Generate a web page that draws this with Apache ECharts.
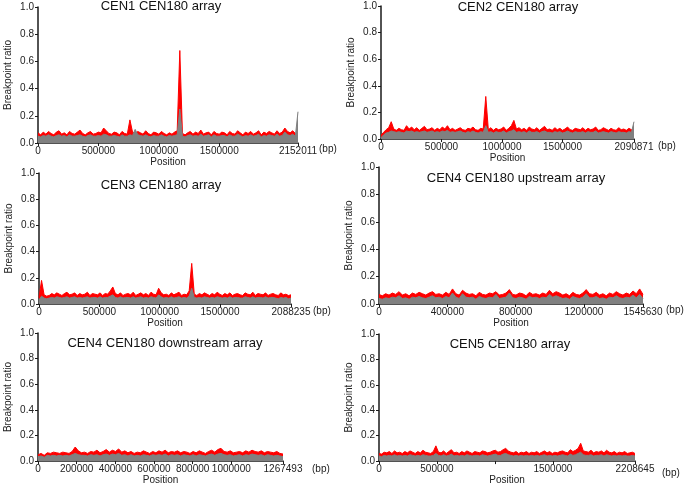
<!DOCTYPE html>
<html><head><meta charset="utf-8">
<script src="https://cdn.jsdelivr.net/npm/echarts@6/dist/echarts.min.js"></script>
<style>html,body{margin:0;padding:0;background:#fff}#c{width:685px;height:486px}</style>
</head><body><div id="c"></div>
<script>
// ---------- DATA ----------
const panelTitles = ['CEN1 CEN180 array','CEN2 CEN180 array','CEN3 CEN180 array','CEN4 CEN180 upstream array','CEN4 CEN180 downstream array','CEN5 CEN180 array'];
const arrayLengths = [2152011, 2090871, 2088235, 1545630, 1267493, 2208645];
const tickValues = [
  [0,500000,1000000,1500000,2152011],
  [0,500000,1000000,1500000,2090871],
  [0,500000,1000000,1500000,2088235],
  [0,400000,800000,1200000,1545630],
  [0,200000,400000,600000,800000,1000000,1267493],
  [0,500000,1000000,1500000,2208645]
];
const labelValues = [
  [0,500000,1000000,1500000,2152011],
  [0,500000,1000000,1500000,2090871],
  [0,500000,1000000,1500000,2088235],
  [0,400000,800000,1200000,1545630],
  [0,200000,400000,600000,800000,1000000,1267493],
  [0,500000,1500000,2208645]
];

const red1 = [0.075,0.06,0.08,0.065,0.085,0.07,0.06,0.08,0.09,0.065,
0.075,0.06,0.085,0.07,0.065,0.08,0.095,0.07,0.06,0.075,
0.085,0.065,0.07,0.08,0.075,0.11,0.09,0.07,0.065,0.08,
0.075,0.06,0.085,0.07,0.065,0.17,0.08,0.07,0.085,0.075,
0.065,0.09,0.07,0.06,0.08,0.075,0.065,0.085,0.07,0.06,
0.075,0.065,0.08,0.09,0.68,0.07,0.06,0.075,0.085,0.065,
0.08,0.07,0.095,0.065,0.075,0.08,0.06,0.085,0.07,0.065,
0.08,0.075,0.06,0.085,0.07,0.065,0.09,0.075,0.06,0.08,
0.07,0.085,0.065,0.075,0.09,0.06,0.08,0.07,0.085,0.075,
0.065,0.09,0.07,0.08,0.11,0.085,0.075,0.09,0.07,0.065];
const gray1 = [0.05,0.045,0.055,0.05,0.06,0.05,0.045,0.055,0.06,0.05,
0.055,0.045,0.06,0.05,0.05,0.055,0.06,0.05,0.045,0.055,
0.06,0.05,0.05,0.055,0.05,0.065,0.06,0.05,0.05,0.055,
0.05,0.045,0.06,0.05,0.05,0.06,0.055,0.1,0.06,0.055,
0.05,0.06,0.05,0.045,0.055,0.05,0.05,0.06,0.05,0.045,
0.055,0.05,0.055,0.06,0.25,0.05,0.045,0.055,0.06,0.05,
0.055,0.05,0.065,0.05,0.055,0.06,0.045,0.06,0.05,0.05,
0.055,0.055,0.045,0.06,0.05,0.05,0.065,0.055,0.045,0.055,
0.05,0.06,0.05,0.055,0.065,0.045,0.055,0.05,0.06,0.055,
0.05,0.065,0.05,0.055,0.08,0.06,0.055,0.065,0.05,0.23];

const red2 = [0.03,0.05,0.07,0.085,0.13,0.075,0.065,0.08,0.07,0.065,
0.1,0.075,0.09,0.07,0.085,0.065,0.08,0.095,0.07,0.075,
0.085,0.065,0.08,0.07,0.09,0.075,0.1,0.07,0.08,0.065,
0.075,0.085,0.07,0.065,0.08,0.075,0.09,0.07,0.065,0.08,
0.075,0.32,0.07,0.085,0.065,0.08,0.07,0.075,0.09,0.065,
0.08,0.1,0.14,0.075,0.085,0.07,0.08,0.065,0.09,0.075,
0.07,0.085,0.065,0.08,0.095,0.07,0.075,0.065,0.085,0.07,
0.08,0.065,0.075,0.09,0.07,0.065,0.08,0.075,0.07,0.085,
0.065,0.08,0.07,0.075,0.09,0.065,0.07,0.085,0.075,0.065,
0.08,0.07,0.065,0.085,0.07,0.075,0.065,0.08,0.07,0.075];
const gray2 = [0.01,0.03,0.045,0.05,0.06,0.055,0.05,0.055,0.05,0.045,
0.06,0.055,0.06,0.05,0.055,0.05,0.055,0.06,0.05,0.055,
0.06,0.05,0.055,0.05,0.06,0.055,0.065,0.05,0.055,0.05,
0.055,0.06,0.05,0.045,0.055,0.05,0.06,0.05,0.045,0.055,
0.05,0.1,0.05,0.055,0.045,0.055,0.05,0.05,0.06,0.045,
0.055,0.06,0.07,0.05,0.055,0.05,0.055,0.045,0.06,0.05,
0.05,0.055,0.045,0.055,0.06,0.05,0.05,0.045,0.055,0.05,
0.055,0.045,0.05,0.06,0.05,0.045,0.055,0.05,0.05,0.055,
0.045,0.055,0.05,0.05,0.06,0.045,0.05,0.055,0.05,0.045,
0.055,0.05,0.045,0.055,0.05,0.05,0.045,0.055,0.05,0.13];

const red3 = [0.05,0.18,0.07,0.06,0.065,0.08,0.07,0.085,0.075,0.065,
0.08,0.09,0.07,0.075,0.085,0.065,0.08,0.07,0.075,0.09,
0.065,0.08,0.075,0.07,0.085,0.065,0.08,0.075,0.1,0.13,
0.08,0.07,0.085,0.065,0.075,0.08,0.07,0.09,0.065,0.075,
0.085,0.07,0.08,0.065,0.09,0.075,0.07,0.12,0.085,0.07,
0.075,0.065,0.085,0.07,0.08,0.09,0.065,0.075,0.07,0.1,
0.31,0.075,0.065,0.08,0.07,0.085,0.075,0.065,0.08,0.07,
0.09,0.075,0.065,0.08,0.07,0.085,0.065,0.075,0.08,0.07,
0.065,0.085,0.075,0.07,0.09,0.065,0.08,0.075,0.07,0.085,
0.065,0.075,0.08,0.07,0.065,0.085,0.07,0.075,0.065,0.07];
const gray3 = [0.03,0.06,0.045,0.04,0.045,0.05,0.045,0.055,0.05,0.045,
0.05,0.055,0.045,0.05,0.055,0.045,0.05,0.045,0.05,0.055,
0.045,0.05,0.05,0.045,0.055,0.045,0.05,0.05,0.06,0.07,
0.05,0.045,0.055,0.045,0.05,0.05,0.045,0.055,0.045,0.05,
0.055,0.045,0.05,0.045,0.055,0.05,0.045,0.07,0.055,0.045,
0.05,0.045,0.055,0.045,0.05,0.055,0.045,0.05,0.045,0.06,
0.12,0.05,0.045,0.05,0.045,0.055,0.05,0.045,0.05,0.045,
0.055,0.05,0.045,0.05,0.045,0.055,0.045,0.05,0.05,0.045,
0.045,0.055,0.05,0.045,0.055,0.045,0.05,0.05,0.045,0.055,
0.045,0.05,0.05,0.045,0.04,0.05,0.045,0.05,0.04,0.045];

const red4 = [0.07,0.06,0.075,0.065,0.08,0.07,0.09,0.065,0.075,0.06,
0.08,0.07,0.085,0.075,0.065,0.08,0.09,0.07,0.075,0.065,
0.085,0.07,0.11,0.075,0.065,0.1,0.08,0.07,0.075,0.06,
0.085,0.07,0.065,0.08,0.075,0.09,0.065,0.07,0.08,0.105,
0.07,0.065,0.08,0.075,0.06,0.085,0.07,0.075,0.065,0.08,
0.07,0.1,0.075,0.09,0.08,0.065,0.075,0.06,0.085,0.07,
0.065,0.08,0.105,0.075,0.07,0.085,0.065,0.075,0.06,0.08,
0.07,0.09,0.075,0.065,0.08,0.07,0.095,0.075,0.11,0.07];
const gray4 = [0.04,0.035,0.045,0.04,0.05,0.045,0.06,0.04,0.045,0.035,
0.05,0.045,0.055,0.045,0.04,0.05,0.06,0.045,0.05,0.04,
0.055,0.045,0.08,0.05,0.04,0.075,0.05,0.045,0.05,0.035,
0.055,0.045,0.04,0.05,0.045,0.07,0.04,0.045,0.05,0.08,
0.045,0.04,0.05,0.045,0.035,0.055,0.045,0.05,0.04,0.05,
0.045,0.07,0.05,0.06,0.05,0.04,0.045,0.035,0.055,0.045,
0.04,0.05,0.075,0.045,0.045,0.055,0.04,0.045,0.035,0.05,
0.045,0.06,0.045,0.04,0.05,0.045,0.065,0.045,0.07,0.04];

const red5 = [0.05,0.06,0.045,0.065,0.06,0.07,0.065,0.06,0.07,0.065,
0.06,0.075,0.11,0.08,0.065,0.07,0.06,0.075,0.07,0.085,
0.065,0.075,0.09,0.07,0.085,0.075,0.095,0.07,0.08,0.065,
0.075,0.06,0.07,0.065,0.08,0.07,0.06,0.075,0.065,0.08,
0.07,0.085,0.065,0.075,0.07,0.08,0.065,0.075,0.07,0.06,
0.075,0.065,0.08,0.07,0.06,0.075,0.085,0.07,0.09,0.1,
0.075,0.07,0.08,0.065,0.07,0.075,0.065,0.08,0.07,0.085,
0.075,0.07,0.08,0.065,0.075,0.07,0.065,0.075,0.06,0.055];
const gray5 = [0.035,0.04,0.03,0.045,0.04,0.045,0.04,0.045,0.04,0.045,
0.04,0.05,0.06,0.05,0.045,0.045,0.04,0.05,0.045,0.05,
0.04,0.05,0.055,0.045,0.055,0.05,0.06,0.045,0.05,0.04,
0.05,0.04,0.045,0.04,0.05,0.045,0.04,0.05,0.045,0.05,
0.045,0.055,0.04,0.05,0.045,0.05,0.04,0.05,0.045,0.04,
0.05,0.04,0.05,0.045,0.04,0.05,0.055,0.045,0.055,0.06,
0.05,0.045,0.05,0.04,0.045,0.05,0.04,0.05,0.045,0.055,
0.05,0.045,0.05,0.04,0.05,0.045,0.04,0.045,0.04,0.035];

const red6 = [0.06,0.055,0.07,0.065,0.075,0.06,0.08,0.065,0.07,0.06,
0.075,0.065,0.08,0.07,0.06,0.075,0.065,0.085,0.07,0.065,
0.06,0.075,0.12,0.07,0.065,0.08,0.06,0.075,0.09,0.065,
0.07,0.06,0.075,0.065,0.08,0.07,0.06,0.075,0.07,0.065,
0.08,0.075,0.065,0.07,0.08,0.085,0.07,0.075,0.09,0.1,
0.08,0.07,0.065,0.075,0.06,0.07,0.065,0.075,0.06,0.07,
0.065,0.075,0.06,0.07,0.08,0.065,0.075,0.06,0.07,0.065,
0.075,0.08,0.07,0.065,0.09,0.075,0.085,0.1,0.14,0.08,
0.075,0.07,0.085,0.065,0.075,0.07,0.08,0.065,0.085,0.07,
0.065,0.075,0.06,0.07,0.065,0.075,0.06,0.065,0.07,0.06];
const gray6 = [0.04,0.035,0.045,0.04,0.045,0.04,0.05,0.04,0.045,0.04,
0.045,0.04,0.05,0.045,0.04,0.045,0.04,0.05,0.045,0.04,
0.04,0.045,0.06,0.045,0.04,0.05,0.04,0.045,0.055,0.04,
0.045,0.04,0.045,0.04,0.05,0.045,0.04,0.045,0.045,0.04,
0.05,0.045,0.04,0.045,0.05,0.055,0.045,0.045,0.055,0.06,
0.05,0.045,0.04,0.045,0.04,0.045,0.04,0.045,0.04,0.045,
0.04,0.045,0.04,0.045,0.05,0.04,0.045,0.04,0.045,0.04,
0.045,0.05,0.045,0.04,0.055,0.045,0.05,0.06,0.07,0.05,
0.045,0.045,0.05,0.04,0.045,0.045,0.05,0.04,0.05,0.045,
0.04,0.045,0.04,0.045,0.04,0.045,0.04,0.04,0.045,0.04];

const redSeries = [red1, red2, red3, red4, red5, red6];
const graySeries = [gray1, gray2, gray3, gray4, gray5, gray6];

// ---------- LAYOUT (styles / positions) ----------
const layout = [
  {left:38,  top:7,   width:260, height:136, title:[161,6],   bp:[319,149]},
  {left:381, top:6,   width:253, height:133, title:[518,7],   bp:[658,146]},
  {left:39,  top:173, width:252, height:131, title:[161,185], bp:[313,311]},
  {left:379, top:167, width:264, height:137, title:[516,178], bp:[666,310]},
  {left:38,  top:333, width:245, height:130, title:[165,343], bp:[312,469]},
  {left:379, top:334, width:256, height:133, title:[510,344], bp:[662,473]}
];
const FONT = 'Liberation Sans, Arial, sans-serif';
const AXIS_COLOR = '#1a1a1a';

const grid = [], xAxis = [], yAxis = [], series = [], graphic = [];
layout.forEach((L, i) => {
  grid.push({left:L.left, top:L.top, width:L.width, height:L.height, containLabel:false});
  const maxX = arrayLengths[i];
  xAxis.push({
    type:'value', gridIndex:i, min:0, max:maxX,
    name:'Position', nameLocation:'middle', nameGap:9,
    nameTextStyle:{fontFamily:FONT, fontSize:10, color:'#222', verticalAlign:'top'},
    axisLine:{show:true, onZero:false, lineStyle:{color:AXIS_COLOR, width:1.5}},
    axisTick:{show:true, length:3, inside:false, customValues:tickValues[i], lineStyle:{color:AXIS_COLOR}},
    axisLabel:{show:true, margin:3, fontFamily:FONT, fontSize:10, color:'#222',
      customValues:labelValues[i], formatter:(v)=>String(v)},
    splitLine:{show:false}
  });
  yAxis.push({
    type:'value', gridIndex:i, min:0, max:1, interval:0.2,
    name:'Breakpoint ratio', nameLocation:'middle', nameGap:25,
    nameTextStyle:{fontFamily:FONT, fontSize:10, color:'#222'},
    axisLine:{show:true, lineStyle:{color:AXIS_COLOR, width:1.5}},
    axisTick:{show:true, length:3, lineStyle:{color:AXIS_COLOR}},
    axisLabel:{margin:4, fontFamily:FONT, fontSize:10, color:'#222', formatter:(v)=>v.toFixed(1)},
    splitLine:{show:false}
  });
  const n = redSeries[i].length;
  const step = maxX / (n - 1);
  series.push({
    type:'line', xAxisIndex:i, yAxisIndex:i, z:2,
    data: redSeries[i].map((v,k)=>[k*step, v]),
    showSymbol:false, symbol:'none', silent:true, animation:false,
    lineStyle:{color:'#ff0000', width:1},
    areaStyle:{color:'#ff0000', opacity:1}
  });
  series.push({
    type:'line', xAxisIndex:i, yAxisIndex:i, z:3,
    data: graySeries[i].map((v,k)=>[k*step, v]),
    showSymbol:false, symbol:'none', silent:true, animation:false,
    lineStyle:{color:'#808080', width:1},
    areaStyle:{color:'#808080', opacity:1}
  });
  graphic.push({type:'text', x:L.title[0], y:L.title[1], z:10,
    style:{text:panelTitles[i], font:'13px ' + FONT, fill:'#111', align:'center', verticalAlign:'middle'}});
  graphic.push({type:'text', x:L.bp[0], y:L.bp[1], z:10,
    style:{text:'(bp)', font:'10px ' + FONT, fill:'#222', align:'left', verticalAlign:'middle'}});
});

const chart = echarts.init(document.getElementById('c'), null, {renderer:'canvas'});
chart.setOption({
  backgroundColor:'#ffffff',
  animation:false,
  grid, xAxis, yAxis, series, graphic
});
</script>
</body></html>
